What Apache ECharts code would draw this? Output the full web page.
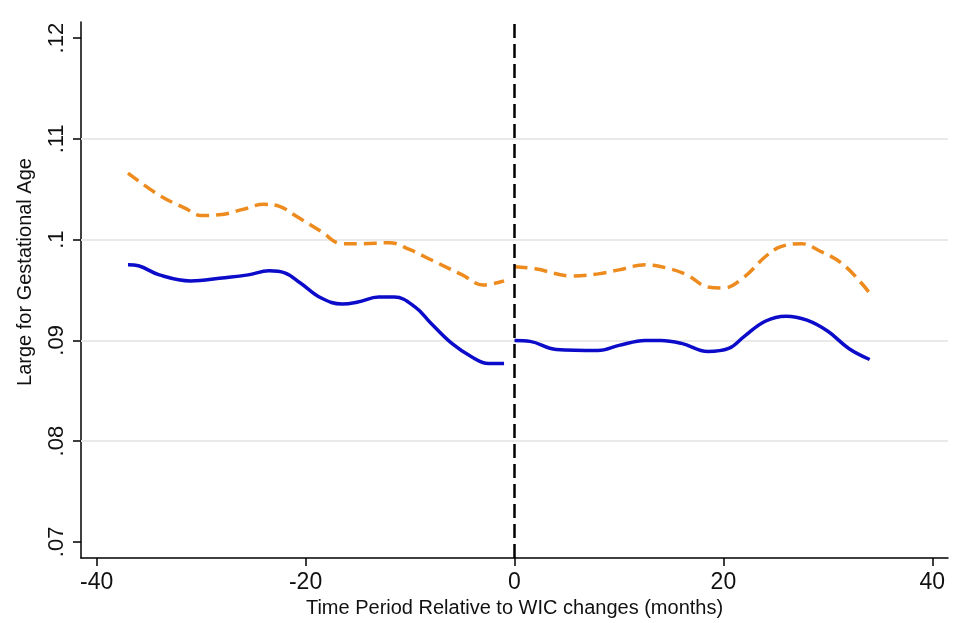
<!DOCTYPE html>
<html>
<head>
<meta charset="utf-8">
<script src="https://cdn.jsdelivr.net/npm/echarts@6/dist/echarts.min.js"></script>
<style>
  html, body { margin: 0; padding: 0; background: #ffffff; }
  #chart { width: 970px; height: 623px; }
</style>
</head>
<body>
<div id="chart"></div>
<script>
// Smoothed share of births that are large for gestational age,
// before and after the WIC package changes (month 0).

// Solid blue curve
const blueBeforeMonths = [-37, -36, -34, -31, -28, -25.5, -23.5, -22, -20.5, -18.5, -16.5, -15, -13, -11.5, -9.5, -8, -6, -4, -2.5, -1];
const blueBeforeRate   = [0.0975, 0.0974, 0.0965, 0.0959, 0.0962, 0.0965, 0.0969, 0.0967, 0.0957, 0.0942, 0.0936, 0.0938, 0.0943, 0.0943, 0.0933, 0.0917, 0.0897, 0.0883, 0.0877, 0.0877];
const blueAfterMonths  = [0, 1.5, 4, 8, 10, 12.5, 14, 16, 18.5, 20.5, 22, 24, 26, 28, 30, 32, 34];
const blueAfterRate    = [0.0900, 0.0899, 0.0891, 0.0890, 0.0895, 0.0900, 0.0900, 0.0897, 0.0889, 0.0892, 0.0904, 0.0919, 0.0924, 0.0920, 0.0909, 0.0892, 0.0881];

// Dashed orange curve
const orangeBeforeMonths = [-37, -34, -31.5, -30, -28, -26, -24, -22.5, -21, -18.5, -16.5, -14.5, -12, -10, -8, -5, -3, -1];
const orangeBeforeRate   = [0.1066, 0.1044, 0.1031, 0.1024, 0.1025, 0.1030, 0.1035, 0.1033, 0.1024, 0.1008, 0.0996, 0.0996, 0.0997, 0.0990, 0.0980, 0.0965, 0.0955, 0.0959];
const orangeAfterMonths  = [0, 2, 5.5, 8, 10, 12.5, 14.5, 16.5, 18.5, 20, 22, 24, 25.5, 27.5, 29, 31.5, 34];
const orangeAfterRate    = [0.0973, 0.0971, 0.0964, 0.0966, 0.0970, 0.0975, 0.0972, 0.0965, 0.0953, 0.0952, 0.0963, 0.0983, 0.0993, 0.0996, 0.0990, 0.0975, 0.0947];

// Axis ticks and reference lines
const xTicks = [-40, -20, 0, 20, 40];
const yTicks = [0.07, 0.08, 0.09, 0.10, 0.11, 0.12];
const yGridValues = [0.08, 0.09, 0.10, 0.11];
const changeMonth = 0;

const xTitle = 'Time Period Relative to WIC changes (months)';
const yTitle = 'Large for Gestational Age';

const zip = (xs, ys) => xs.map((x, i) => [x, ys[i]]);
const fmtRate = v => String(+v.toFixed(2)).replace(/^0/, '');

const FONT = '"Liberation Sans", Arial, sans-serif';
const BLUE = '#0b0bc9';
const ORANGE = '#ee8b1e';

const curve = (name, data, color, dashed) => ({
  name, type: 'line', data,
  smooth: 0.4, symbol: 'none', showSymbol: false, silent: true,
  lineStyle: { color, width: 3.5, type: dashed ? [13, 7] : 'solid', cap: 'butt' },
  z: 5
});

const chart = echarts.init(document.getElementById('chart'), null, { renderer: 'canvas' });
chart.setOption({
  backgroundColor: '#ffffff',
  animation: false,
  grid: { left: 81, right: 22, top: 22, bottom: 65, containLabel: false, outerBoundsMode: 'none' },
  xAxis: {
    type: 'value', min: -41.5, max: 41.5,
    name: xTitle, nameLocation: 'middle', nameGap: 40,
    nameTextStyle: { fontFamily: FONT, fontSize: 20, color: '#111' },
    axisLine: { show: true, onZero: false, lineStyle: { color: '#000', width: 1.5 } },
    axisTick: { show: true, customValues: xTicks, length: 8, lineStyle: { color: '#000', width: 1.5 } },
    axisLabel: { customValues: xTicks, margin: 13, fontFamily: FONT, fontSize: 23, color: '#111' },
    splitLine: { show: false }
  },
  yAxis: {
    type: 'value', min: 0.0684, max: 0.1216,
    name: yTitle, nameLocation: 'middle', nameGap: 46, nameRotate: 90,
    nameTextStyle: { fontFamily: FONT, fontSize: 20, color: '#111', padding: [0, 0, 0, 36] },
    axisLine: { show: true, onZero: false, lineStyle: { color: '#000', width: 1.5 } },
    axisTick: { show: true, customValues: yTicks, length: 8, lineStyle: { color: '#000', width: 1.5 } },
    axisLabel: { customValues: yTicks, rotate: 90, margin: 13, fontFamily: FONT, fontSize: 22, color: '#111', formatter: fmtRate },
    splitLine: { show: false }
  },
  series: [
    Object.assign(curve('orange-before', zip(orangeBeforeMonths, orangeBeforeRate), ORANGE, true), {
      markLine: {
        silent: true, symbol: 'none', label: { show: false }, z: 1,
        lineStyle: { color: '#e9e9e9', width: 2, type: 'solid' },
        data: yGridValues.map(v => ({ yAxis: v }))
      }
    }),
    curve('orange-after', zip(orangeAfterMonths, orangeAfterRate), ORANGE, true),
    Object.assign(curve('blue-before', zip(blueBeforeMonths, blueBeforeRate), BLUE, false), {
      markLine: {
        silent: true, symbol: 'none', label: { show: false }, z: 10,
        lineStyle: { color: '#000', width: 2.5, type: [14, 6] },
        data: [{ xAxis: changeMonth }]
      }
    }),
    curve('blue-after', zip(blueAfterMonths, blueAfterRate), BLUE, false)
  ]
});
</script>
</body>
</html>
